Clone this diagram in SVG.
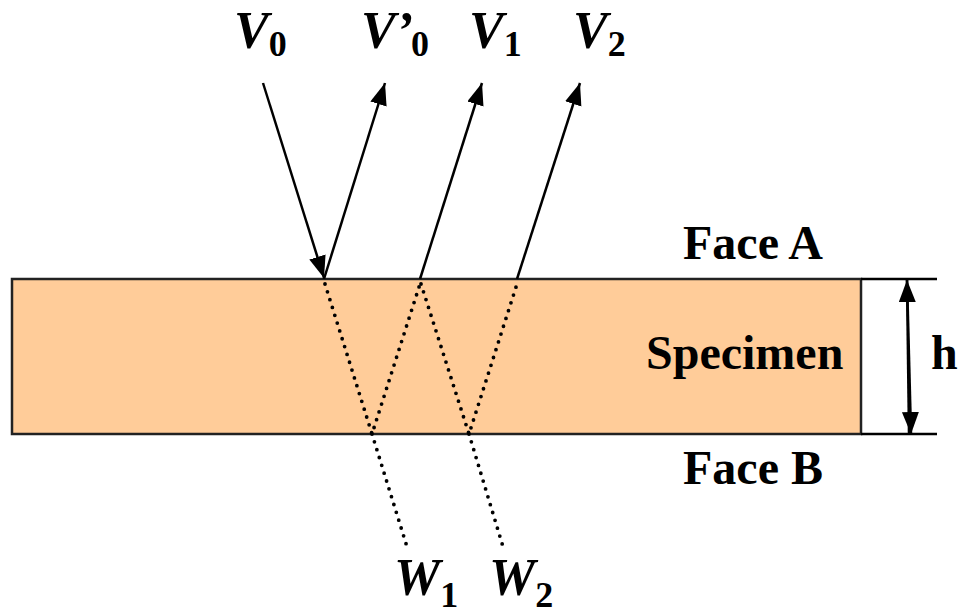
<svg xmlns="http://www.w3.org/2000/svg" width="959" height="616" viewBox="0 0 959 616">
<style>
.lbl{font-family:"Liberation Serif","Times New Roman",serif;font-weight:bold;fill:#000}
.v{font-style:italic;font-size:52px}
.s{font-size:36px}
.t{font-size:48px}
.ray{stroke:#000;stroke-width:2.5;fill:none}
.dot{stroke:#000;stroke-width:3.8;fill:none;stroke-linecap:round;stroke-dasharray:0 8.2}
</style>
<defs>
<marker id="ah" markerUnits="userSpaceOnUse" markerWidth="24" markerHeight="18" refX="22" refY="8.5" orient="auto">
<path d="M0,0 L22,8.5 L0,17 Z" fill="#000"/>
</marker>
</defs>
<g id="specimen">
<rect x="12" y="279" width="849" height="155" fill="#FFCC99" stroke="#222" stroke-width="2.5"/>
<line x1="861" y1="279" x2="937" y2="279" stroke="#000" stroke-width="2.5"/>
<line x1="861" y1="434" x2="937" y2="434" stroke="#000" stroke-width="2.5"/>
<text class="lbl t" x="646" y="369">Specimen</text>
</g>
<g id="faceA"><text class="lbl t" x="683" y="259">Face A</text></g>
<g id="faceB"><text class="lbl t" x="683" y="484">Face B</text></g>
<g id="h">
<text class="lbl t" x="931" y="369">h</text>
</g>
<g id="labels">
<text class="lbl" x="234" y="48"><tspan class="v">V</tspan><tspan class="s" dx="0" dy="8">0</tspan></text>
<text class="lbl" x="361" y="48"><tspan class="v">V’</tspan><tspan class="s" dx="-2" dy="8">0</tspan></text>
<text class="lbl" x="469" y="48"><tspan class="v">V</tspan><tspan class="s" dx="0" dy="8">1</tspan></text>
<text class="lbl" x="573" y="48"><tspan class="v">V</tspan><tspan class="s" dx="0" dy="8">2</tspan></text>
<text class="lbl" x="394" y="595"><tspan class="v">W</tspan><tspan class="s" dx="0" dy="12">1</tspan></text>
<text class="lbl" x="489" y="595"><tspan class="v">W</tspan><tspan class="s" dx="0" dy="12">2</tspan></text>
</g>
<g id="connectors">
<line class="ray" x1="263" y1="83" x2="324" y2="278" marker-end="url(#ah)"/>
<line class="ray" x1="324" y1="279" x2="385" y2="83" marker-end="url(#ah)"/>
<line class="ray" x1="420" y1="279" x2="482" y2="83" marker-end="url(#ah)"/>
<line class="ray" x1="517" y1="279" x2="580" y2="83" marker-end="url(#ah)"/>
<line class="ray" x1="909" y1="434" x2="907" y2="280" marker-end="url(#ah)"/>
<line class="ray" x1="907" y1="279" x2="911" y2="434" marker-end="url(#ah)"/>
<polyline class="dot" points="325,284 372,434 420,284"/>
<polyline class="dot" points="421,284 469,434 517,284"/>
<line class="dot" x1="372" y1="434" x2="408" y2="550"/>
<line class="dot" x1="469" y1="434" x2="504" y2="550"/>
</g>
</svg>
